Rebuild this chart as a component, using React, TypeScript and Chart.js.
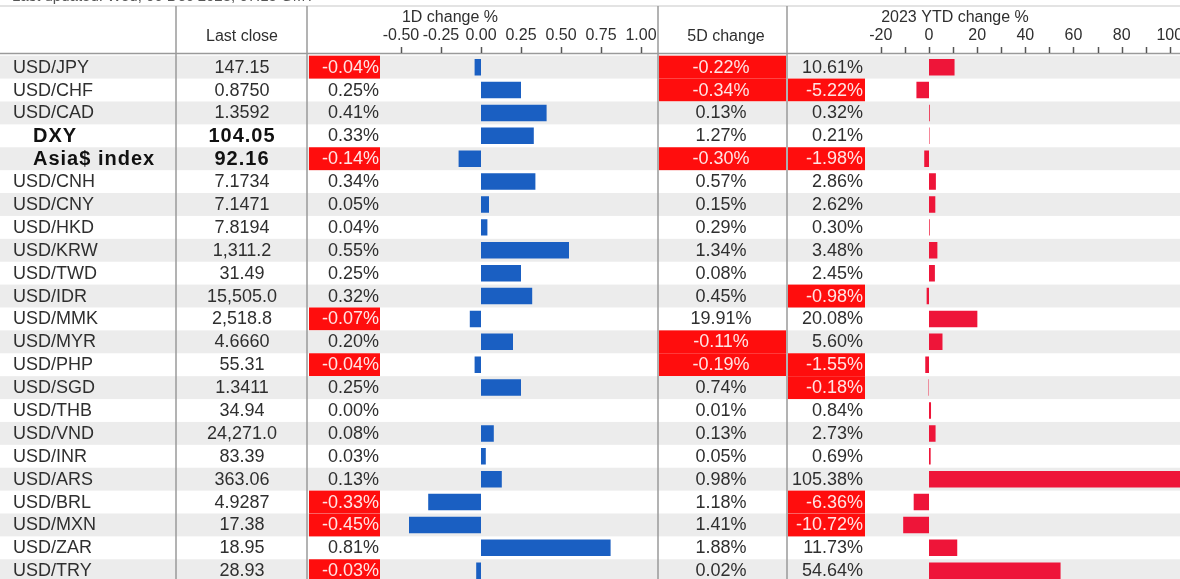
import React, { useEffect, useRef } from 'react';
import { Chart, registerables } from 'chart.js';
Chart.register(...registerables);

const categories = [
  'USD/JPY', 'USD/CHF', 'USD/CAD', 'DXY', 'Asia$ index', 'USD/CNH', 'USD/CNY', 'USD/HKD',
  'USD/KRW', 'USD/TWD', 'USD/IDR', 'USD/MMK', 'USD/MYR', 'USD/PHP', 'USD/SGD', 'USD/THB',
  'USD/VND', 'USD/INR', 'USD/ARS', 'USD/BRL', 'USD/MXN', 'USD/ZAR', 'USD/TRY',
];
const boldRows = ['DXY', 'Asia$ index'];
const lastClose = [
  '147.15', '0.8750', '1.3592', '104.05', '92.16', '7.1734', '7.1471', '7.8194',
  '1,311.2', '31.49', '15,505.0', '2,518.8', '4.6660', '55.31', '1.3411', '34.94',
  '24,271.0', '83.39', '363.06', '4.9287', '17.38', '18.95', '28.93',
];
const change1D = [
  -0.04, 0.25, 0.41, 0.33, -0.14, 0.34, 0.05, 0.04, 0.55, 0.25, 0.32, -0.07,
  0.2, -0.04, 0.25, 0.0, 0.08, 0.03, 0.13, -0.33, -0.45, 0.81, -0.03,
];
const change5D = [
  -0.22, -0.34, 0.13, 1.27, -0.3, 0.57, 0.15, 0.29, 1.34, 0.08, 0.45, 19.91,
  -0.11, -0.19, 0.74, 0.01, 0.13, 0.05, 0.98, 1.18, 1.41, 1.88, 0.02,
];
const changeYTD = [
  10.61, -5.22, 0.32, 0.21, -1.98, 2.86, 2.62, 0.3, 3.48, 2.45, -0.98, 20.08,
  5.6, -1.55, -0.18, 0.84, 2.73, 0.69, 105.38, -6.36, -10.72, 11.73, 54.64,
];
const ticks1D = [-0.5, -0.25, 0, 0.25, 0.5, 0.75, 1.0];
const tickLabels1D = ['-0.50', '-0.25', '0.00', '0.25', '0.50', '0.75', '1.00'];
const ticksYTD = [-20, 0, 20, 40, 60, 80, 100];
const minorTicksYTD = [-20, -10, 0, 10, 20, 30, 40, 50, 60, 70, 80, 90, 100];
const titleText = 'Last updated: Wed, 06 Dec 2023, 07:15 GMT';

const W = 1180;
const H = 600;
const TEXT = '#2f2f2f';
const RED = '#ff0d0d';
const RED_TEXT = '#ffe4e4';
const STRIPE = '#ececec';
const FONT = '"Liberation Sans", Arial, Helvetica, sans-serif';

const pct = (v: number) => `${v.toFixed(2)}%`;

const tablePlugin = {
  id: 'tablePlugin',
  beforeDatasetsDraw(chart: any) {
    const ctx = chart.ctx as CanvasRenderingContext2D;
    const y = chart.scales.y;
    const x1 = chart.scales.x1;
    const x2 = chart.scales.x2;
    const band = y.getPixelForValue(1) - y.getPixelForValue(0);
    ctx.save();
    ctx.fillStyle = '#ffffff';
    ctx.fillRect(0, 0, W, H);
    categories.forEach((_, i) => {
      const top = y.getPixelForValue(i) - band / 2;
      if (i % 2 === 0) {
        ctx.fillStyle = STRIPE;
        ctx.fillRect(0, top, W, band);
      }
      ctx.fillStyle = RED;
      if (change1D[i] < 0) ctx.fillRect(309, top, 71, band);
      if (change5D[i] < 0) ctx.fillRect(659, top, 127, band);
      if (changeYTD[i] < 0) ctx.fillRect(788, top, 77, band);
    });
    // grid lines
    ctx.strokeStyle = '#c8c8c8';
    ctx.lineWidth = 1.2;
    ctx.beginPath();
    ctx.moveTo(0, 6);
    ctx.lineTo(W, 6);
    ctx.stroke();
    ctx.strokeStyle = '#9a9a9a';
    ctx.lineWidth = 1.5;
    ctx.beginPath();
    ctx.moveTo(0, 53.5);
    ctx.lineTo(W, 53.5);
    ctx.stroke();
    [176, 307, 658, 787].forEach((lx) => {
      ctx.beginPath();
      ctx.moveTo(lx, 6);
      ctx.lineTo(lx, H);
      ctx.stroke();
    });
    // title (cut off at top)
    ctx.fillStyle = '#555555';
    ctx.font = `15px ${FONT}`;
    ctx.textAlign = 'left';
    ctx.textBaseline = 'alphabetic';
    ctx.fillText(titleText, 12, 0.5);
    // headers
    ctx.fillStyle = TEXT;
    ctx.font = `16px ${FONT}`;
    ctx.textAlign = 'center';
    ctx.textBaseline = 'middle';
    ctx.fillText('Last close', 242, 37);
    ctx.fillText('1D change %', 450, 18);
    ctx.fillText('5D change', 726, 37);
    ctx.fillText('2023 YTD change %', 955, 18);
    ticks1D.forEach((t, k) => {
      const px = x1.getPixelForValue(t);
      ctx.fillText(tickLabels1D[k], px, 36);
    });
    ticksYTD.forEach((t) => {
      const px = x2.getPixelForValue(t);
      ctx.fillText(String(t), px, 36);
    });
    ctx.strokeStyle = '#555555';
    ctx.lineWidth = 1.5;
    ticks1D.forEach((t) => {
      const px = Math.round(x1.getPixelForValue(t)) + 0.5;
      ctx.beginPath();
      ctx.moveTo(px, 47);
      ctx.lineTo(px, 53);
      ctx.stroke();
    });
    minorTicksYTD.forEach((t) => {
      const px = Math.round(x2.getPixelForValue(t)) + 0.5;
      ctx.beginPath();
      ctx.moveTo(px, 47);
      ctx.lineTo(px, 53);
      ctx.stroke();
    });
    ctx.restore();
  },
  afterDatasetsDraw(chart: any) {
    const ctx = chart.ctx as CanvasRenderingContext2D;
    const y = chart.scales.y;
    ctx.save();
    ctx.textBaseline = 'middle';
    categories.forEach((cat, i) => {
      const yc = y.getPixelForValue(i) + 0.5;
      const bold = boldRows.includes(cat);
      if (bold) {
        ctx.font = `bold 20px ${FONT}`;
        (ctx as any).letterSpacing = '1px';
        ctx.fillStyle = '#111111';
        ctx.textAlign = 'left';
        ctx.fillText(cat, 33, yc);
        ctx.textAlign = 'center';
        ctx.fillText(lastClose[i], 242, yc);
        (ctx as any).letterSpacing = '0px';
      } else {
        ctx.font = `18px ${FONT}`;
        ctx.fillStyle = TEXT;
        ctx.textAlign = 'left';
        ctx.fillText(cat, 13, yc);
        ctx.textAlign = 'center';
        ctx.fillText(lastClose[i], 242, yc);
      }
      ctx.font = `18px ${FONT}`;
      ctx.textAlign = 'right';
      ctx.fillStyle = change1D[i] < 0 ? RED_TEXT : TEXT;
      ctx.fillText(pct(change1D[i]), 379, yc);
      ctx.textAlign = 'center';
      ctx.fillStyle = change5D[i] < 0 ? RED_TEXT : TEXT;
      ctx.fillText(pct(change5D[i]), 721, yc);
      ctx.textAlign = 'right';
      ctx.fillStyle = changeYTD[i] < 0 ? RED_TEXT : TEXT;
      ctx.fillText(pct(changeYTD[i]), 863, yc);
    });
    ctx.restore();
  },
};

export default function App() {
  const ref = useRef<HTMLCanvasElement | null>(null);
  useEffect(() => {
    document.body.style.margin = '0';
    const canvas = ref.current;
    if (!canvas) return;
    const rowTop = 55.7;
    const rowPitch = 22.89;
    const areaBottom = rowTop + rowPitch * categories.length;
    const zero1D = 481;
    const px1D = 160;
    const zeroYTD = 929;
    const pxYTD = 2.408;
    const chart = new Chart(canvas, {
      type: 'bar',
      data: {
        labels: categories,
        datasets: [
          {
            label: '1D change %',
            data: change1D,
            xAxisID: 'x1',
            backgroundColor: '#1a5fc2',
            borderWidth: 0,
            grouped: false,
            barPercentage: 0.72,
            categoryPercentage: 1,
          },
          {
            label: '2023 YTD change %',
            data: changeYTD,
            xAxisID: 'x2',
            backgroundColor: '#ee1539',
            borderWidth: 0,
            grouped: false,
            barPercentage: 0.72,
            categoryPercentage: 1,
          },
        ],
      },
      options: {
        indexAxis: 'y',
        responsive: false,
        animation: false,
        events: [],
        layout: { padding: { top: rowTop, bottom: H - areaBottom, left: 0, right: 0 } },
        plugins: { legend: { display: false }, tooltip: { enabled: false } },
        scales: {
          y: { type: 'category', display: false, offset: true },
          x1: {
            type: 'linear',
            display: false,
            min: -zero1D / px1D,
            max: (W - zero1D) / px1D,
          },
          x2: {
            type: 'linear',
            display: false,
            min: -zeroYTD / pxYTD,
            max: (W - zeroYTD) / pxYTD,
          },
        },
      } as any,
      plugins: [tablePlugin],
    });
    return () => chart.destroy();
  }, []);
  return (
    <div
      style={{
        position: 'fixed',
        left: 0,
        top: 0,
        width: W,
        height: 579,
        overflow: 'hidden',
        background: '#ffffff',
      }}
    >
      <canvas ref={ref} width={W} height={H} style={{ display: 'block', width: W, height: H }} />
    </div>
  );
}
